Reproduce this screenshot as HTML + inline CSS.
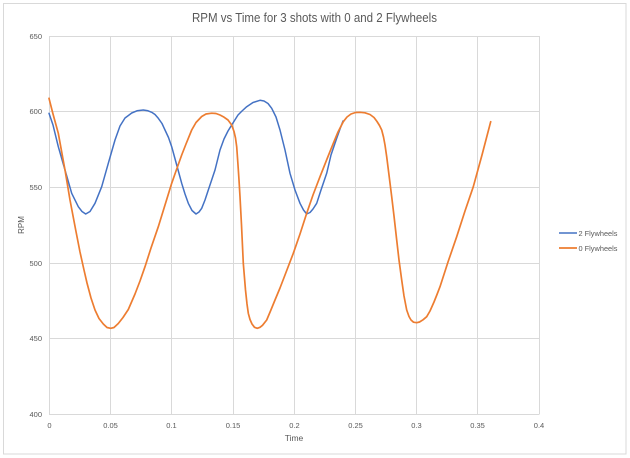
<!DOCTYPE html>
<html><head><meta charset="utf-8"><style>
html,body{margin:0;padding:0;background:#fff;}
svg{display:block;}
text{font-family:"Liberation Sans",sans-serif;fill:#595959;}
</style></head><body>
<svg width="630" height="458" viewBox="0 0 630 458" xmlns="http://www.w3.org/2000/svg">
<rect x="0" y="0" width="630" height="458" fill="#fff"/>
<rect x="3.5" y="3.5" width="622.5" height="450.5" fill="#fff" stroke="#D9D9D9" stroke-width="1"/>
<text x="314.5" y="22" font-size="12.5" text-anchor="middle" textLength="245" lengthAdjust="spacingAndGlyphs">RPM vs Time for 3 shots with 0 and 2 Flywheels</text>
<g stroke="#D9D9D9" stroke-width="1">
<line x1="49" y1="36.5" x2="539.5" y2="36.5"/>
<line x1="49" y1="111.5" x2="539.5" y2="111.5"/>
<line x1="49" y1="187.5" x2="539.5" y2="187.5"/>
<line x1="49" y1="263.5" x2="539.5" y2="263.5"/>
<line x1="49" y1="338.5" x2="539.5" y2="338.5"/>
<line x1="49" y1="414.5" x2="539.5" y2="414.5"/>
<line x1="49.5" y1="36" x2="49.5" y2="414"/>
<line x1="110.5" y1="36" x2="110.5" y2="414"/>
<line x1="171.5" y1="36" x2="171.5" y2="414"/>
<line x1="233.5" y1="36" x2="233.5" y2="414"/>
<line x1="294.5" y1="36" x2="294.5" y2="414"/>
<line x1="355.5" y1="36" x2="355.5" y2="414"/>
<line x1="416.5" y1="36" x2="416.5" y2="414"/>
<line x1="477.5" y1="36" x2="477.5" y2="414"/>
<line x1="539.5" y1="36" x2="539.5" y2="414"/>
</g>
<g font-size="7.5" text-anchor="end">
<text x="42" y="39">650</text>
<text x="42" y="114">600</text>
<text x="42" y="190">550</text>
<text x="42" y="266">500</text>
<text x="42" y="341">450</text>
<text x="42" y="417">400</text>
</g>
<g font-size="7.5" text-anchor="middle">
<text x="49.5" y="428">0</text>
<text x="110.5" y="428">0.05</text>
<text x="171.5" y="428">0.1</text>
<text x="233" y="428">0.15</text>
<text x="294.5" y="428">0.2</text>
<text x="355.5" y="428">0.25</text>
<text x="416.5" y="428">0.3</text>
<text x="477.5" y="428">0.35</text>
<text x="539" y="428">0.4</text>
</g>
<text x="294" y="441" font-size="8.5" text-anchor="middle">Time</text>
<text x="0" y="0" font-size="8" text-anchor="middle" transform="translate(24,225) rotate(-90)">RPM</text>
<polyline fill="none" stroke="#4472C4" stroke-width="1.5" stroke-linejoin="round" stroke-linecap="round" points="49,113.3 53,125 58.3,146.7 65,170 71.7,193.3 78.3,206.7 82,211.5 85.7,214 90,211.5 95,203.3 101.7,186.7 108.3,163.3 115,140 120,126 125,118 131.7,113 137,110.8 143.3,110 148,110.8 151.7,112.3 155,114.5 158.3,118.3 162,123.5 165,130 168.5,137.5 171.7,146.7 176.7,165 181.7,183.3 185,194 188.3,203.3 192,210.5 196,214 199,212 201.7,208.3 205,200 208.3,190 212,179 215,170 218,158 220,150 224,139 228,131 231.7,125 238,115 242,111 246.7,106.7 253,102.5 260,100.3 264,101 268,103.5 271.7,108.3 276,117 280,130 285,150 290,173.3 295,190 300,203.3 303.5,210 306.7,214 310,212.5 313,209 316.7,203.3 321,190 326.7,173.3 331,155 336.7,138.3 340,129 343,121"/>
<polyline fill="none" stroke="#ED7D31" stroke-width="1.7" stroke-linejoin="round" stroke-linecap="round" points="49,98.3 53,114 58.3,133.3 65,170 70,200 75.7,230 80,252 84,270 87,283 91,298 95,310 99,318.5 103.3,324 107,327.5 110.7,328.3 114,327.5 118.3,323.5 123,317.5 128.3,309.5 135,294 140,281 145,266.7 151,248 158.3,226.7 165,205 171.7,183.3 176,171 181.7,155 186,144 191.7,130 196,122.5 201.7,116.5 206,114 211.7,113.2 216,113.5 220,115 223.3,116.7 228,120 231.7,125 234,131.5 235.5,138 236.7,146.7 238,165 239,180 240,196.7 241.5,225 243.3,263.3 245.5,290 247,304 248.3,313.3 250,319.5 252,324 254.5,327.3 257.3,328.3 260,327.3 262.5,325.3 266.7,320 270.5,311 275,300 280,288 285,275 293.3,253.3 300,234 306.7,213.3 313,195 320,176.7 327,159 333.3,143.3 338,132 343.3,121.7 347,117 351,114 355.5,112.5 360,112.3 365,112.8 370,114.5 374,117.5 377,121.5 379.5,125.5 381.7,130 383.5,137 385,145 386.7,156.7 389,175 391.7,196.7 394,216 396.7,240 399,260 401.7,280 404,296 406.7,310 409,316.5 411,320 413.5,322.2 416.7,322.7 419.5,322 423,319.8 426.7,316.7 430,311 434,302 437,294.5 440,286.7 448,262 456.7,236.7 465,211 473.3,186.7 482,155 490.7,121.7"/>
<line x1="559" y1="233" x2="577" y2="233" stroke="#4472C4" stroke-width="1.5"/>
<line x1="559" y1="248" x2="577" y2="248" stroke="#ED7D31" stroke-width="1.7"/>
<text x="578.5" y="236" font-size="7.5" textLength="39" lengthAdjust="spacingAndGlyphs">2 Flywheels</text>
<text x="578.5" y="251" font-size="7.5" textLength="39" lengthAdjust="spacingAndGlyphs">0 Flywheels</text>
</svg>
</body></html>
